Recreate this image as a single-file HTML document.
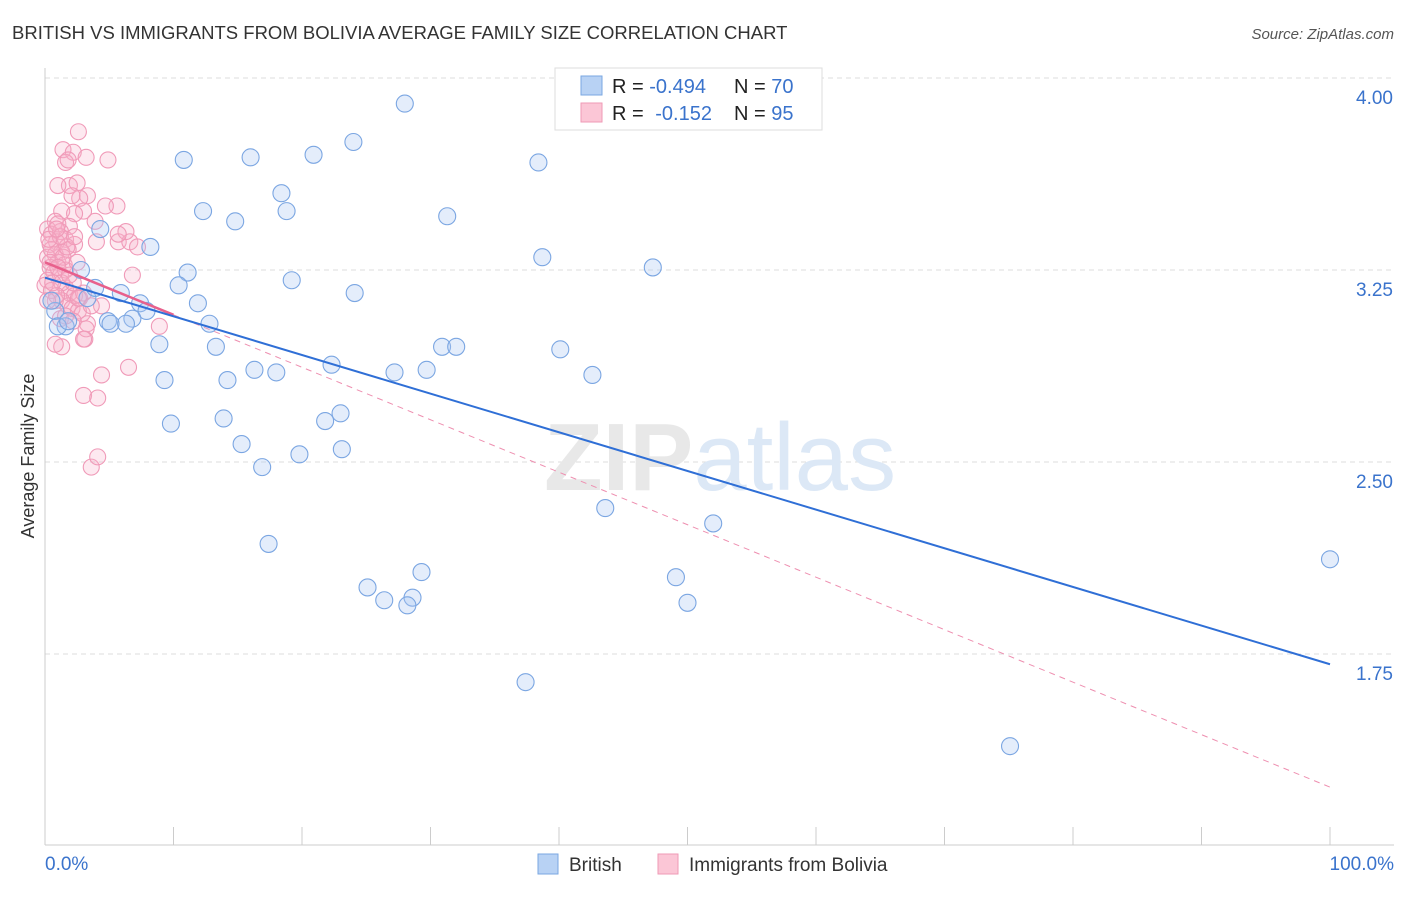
<!DOCTYPE html>
<html><head><meta charset="utf-8">
<style>
body{margin:0;background:#fff;font-family:"Liberation Sans",sans-serif;}
svg text{font-family:"Liberation Sans",sans-serif;}
</style></head>
<body>
<svg id="chart" width="1406" height="892" viewBox="0 0 1406 892" xmlns="http://www.w3.org/2000/svg">
<text x="12" y="39" font-size="18.5" fill="#333">BRITISH VS IMMIGRANTS FROM BOLIVIA AVERAGE FAMILY SIZE CORRELATION CHART</text>
<text x="1394" y="39" font-size="15" fill="#555" font-style="italic" text-anchor="end">Source: ZipAtlas.com</text>
<text transform="translate(34,456) rotate(-90)" font-size="18" fill="#333" text-anchor="middle">Average Family Size</text>
<g id="grid"></g>
<g id="axes"></g>
<text x="720" y="490" font-size="96" font-weight="bold" fill="#e8e8e8" text-anchor="middle">ZIP<tspan fill="#dce8f6" font-weight="normal">atlas</tspan></text>
<g id="pts"></g>
<g id="lines"></g>
<g>
<rect x="555" y="68" width="267" height="62" fill="#fff" stroke="#ddd"/>
<rect x="581" y="76" width="21" height="19" fill="#b8d2f4" stroke="#7aa7e2"/>
<rect x="581" y="103" width="21" height="19" fill="#fbc6d6" stroke="#ef9ab6"/>
<text x="612" y="93" font-size="20" fill="#222">R = <tspan fill="#3a73cc">-0.494</tspan></text>
<text x="734" y="93" font-size="20" fill="#222">N = <tspan fill="#3a73cc">70</tspan></text>
<text x="612" y="120" font-size="20" fill="#222">R = <tspan dx="6" fill="#3a73cc">-0.152</tspan></text>
<text x="734" y="120" font-size="20" fill="#222">N = <tspan fill="#3a73cc">95</tspan></text>
</g>
<g>
<rect x="538" y="854" width="20" height="20" fill="#b8d2f4" stroke="#7aa7e2"/>
<text x="569" y="871" font-size="19" fill="#333">British</text>
<rect x="658" y="854" width="20" height="20" fill="#fbc6d6" stroke="#ef9ab6"/>
<text x="689" y="871" font-size="19" fill="#333">Immigrants from Bolivia</text>
</g>
</svg>
<script>
const yTicks=[4.00,3.25,2.50,1.75];
const yTickLabels=["4.00","3.25","2.50","1.75"];
const xTicks=[0,10,20,30,40,50,60,70,80,90,100];
const xEndLabels=["0.0%","100.0%"];
const britishX=[28.0,10.8,16.0,20.9,24.0,38.4,18.4,12.3,14.8,18.8,31.3,4.3,8.2,38.7,47.3,2.8,11.1,10.4,19.2,5.9,24.1,3.3,7.4,11.9,7.9,6.8,4.9,6.3,12.8,1.6,0.8,8.9,13.3,30.9,32.0,40.1,22.3,16.3,18.0,27.2,29.7,42.6,9.3,14.2,23.0,21.8,9.8,13.9,15.3,23.1,19.8,16.9,43.6,52.0,17.4,100,29.3,49.1,25.1,26.4,28.6,28.2,50.0,37.4,75.1,1.0,1.8,0.5,5.1,3.9];
const britishY=[3.90,3.68,3.69,3.70,3.75,3.67,3.55,3.48,3.44,3.48,3.46,3.41,3.34,3.30,3.26,3.25,3.24,3.19,3.21,3.16,3.16,3.14,3.12,3.12,3.09,3.06,3.05,3.04,3.04,3.03,3.09,2.96,2.95,2.95,2.95,2.94,2.88,2.86,2.85,2.85,2.86,2.84,2.82,2.82,2.69,2.66,2.65,2.67,2.57,2.55,2.53,2.48,2.32,2.26,2.18,2.12,2.07,2.05,2.01,1.96,1.97,1.94,1.95,1.64,1.39,3.03,3.05,3.13,3.04,3.18];
const boliviaX=[2.6,1.4,2.2,3.2,4.9,1.6,1.8,1.9,2.5,1.0,3.3,2.7,2.1,5.6,1.3,3.0,2.3,0.8,3.9,1.9,0.2,1.2,0.5,1.6,0.9,0.4,5.7,6.6,6.3,7.2,2.3,1.8,1.3,0.8,0.2,1.0,1.5,0.4,0.7,1.2,0.2,0.0,0.5,1.6,1.9,2.3,2.7,1.3,1.8,2.1,2.6,0.8,6.8,2.2,2.9,1.2,3.3,4.4,8.9,3.1,1.3,0.8,4.4,6.5,3.0,4.1,3.6,4.1,1.0,0.5,1.6,1.3,0.9,2.2,3.2,5.7,4.7,4.0,0.4,1.4,1.7,2.5,1.0,1.9,0.6,3.0,0.2,1.6,2.6,3.6,1.2,0.3,0.9,2.3,3.0];
const boliviaY=[3.79,3.72,3.71,3.69,3.68,3.67,3.68,3.58,3.59,3.58,3.54,3.53,3.54,3.50,3.48,3.48,3.47,3.44,3.44,3.42,3.41,3.40,3.39,3.37,3.36,3.35,3.36,3.36,3.40,3.34,3.35,3.33,3.32,3.31,3.30,3.28,3.27,3.26,3.24,3.23,3.21,3.19,3.17,3.18,3.16,3.15,3.14,3.13,3.11,3.10,3.09,3.13,3.23,3.20,3.08,3.06,3.04,3.11,3.03,2.98,2.95,2.96,2.84,2.87,2.76,2.75,2.48,2.52,3.43,3.33,3.25,3.20,3.15,3.05,3.02,3.39,3.50,3.36,3.28,3.30,3.34,3.28,3.26,3.23,3.20,3.16,3.13,3.07,3.14,3.11,3.38,3.37,3.41,3.38,2.98];
const britishTrend=[3.22,1.71];
const boliviaTrend=[3.28,1.23];

const NS="http://www.w3.org/2000/svg";
const X=v=>45+v*12.85;
const Y=v=>78+(4-v)*256;
function mk(tag,attrs,parent){const e=document.createElementNS(NS,tag);for(const k in attrs)e.setAttribute(k,attrs[k]);parent.appendChild(e);return e;}
const grid=document.getElementById('grid'),axes=document.getElementById('axes'),pts=document.getElementById('pts'),lines=document.getElementById('lines');
yTicks.forEach((t,i)=>{
 const l=mk('line',{x1:45,x2:1394,y1:Y(t),y2:Y(t),stroke:'#ddd','stroke-dasharray':'5,4'},grid);
 
 
 const tx=mk('text',{x:1393,y:Y(t)+26,'font-size':19,fill:'#3a73cc','text-anchor':'end'},axes);
 tx.textContent=yTickLabels[i];
 
 
});
const yl=mk('line',{x1:45,x2:45,y1:68,y2:845,stroke:'#ccc'},axes);


const xl=mk('line',{x1:45,x2:1394,y1:845,y2:845,stroke:'#ccc'},axes);


xTicks.forEach(t=>{
 const l=mk('line',{x1:X(t),x2:X(t),y1:827,y2:845,stroke:'#ccc'},axes);
 
 
});
const x0=mk('text',{x:45,y:870,'font-size':19,fill:'#3a73cc'},axes);x0.textContent=xEndLabels[0];


const x1=mk('text',{x:1394,y:870,'font-size':19,fill:'#3a73cc','text-anchor':'end'},axes);x1.textContent=xEndLabels[1];


boliviaX.forEach((v,i)=>{
 const c=mk('circle',{cx:X(v),cy:Y(boliviaY[i]),r:8,fill:'rgba(247,175,200,0.28)',stroke:'#f09ab8','stroke-width':1.1},pts);
 
 
});
britishX.forEach((v,i)=>{
 const c=mk('circle',{cx:X(v),cy:Y(britishY[i]),r:8.5,fill:'rgba(170,200,242,0.32)',stroke:'#7ba6e2','stroke-width':1.1},pts);
 
 
});
const bt=v=>britishTrend[0]+(britishTrend[1]-britishTrend[0])*v/100;
const pt=v=>boliviaTrend[0]+(boliviaTrend[1]-boliviaTrend[0])*v/100;
const pd=mk('line',{x1:X(10),y1:Y(pt(10)),x2:X(100),y2:Y(pt(100)),stroke:'#ee8fb0','stroke-width':1,'stroke-dasharray':'6,5'},lines);


const ps=mk('line',{x1:X(0),y1:Y(pt(0)),x2:X(10),y2:Y(pt(10)),stroke:'#e8608c','stroke-width':2.5},lines);


const bl=mk('line',{x1:X(0),y1:Y(bt(0)),x2:X(100),y2:Y(bt(100)),stroke:'#2f6fd6','stroke-width':2},lines);


</script>
</body></html>
